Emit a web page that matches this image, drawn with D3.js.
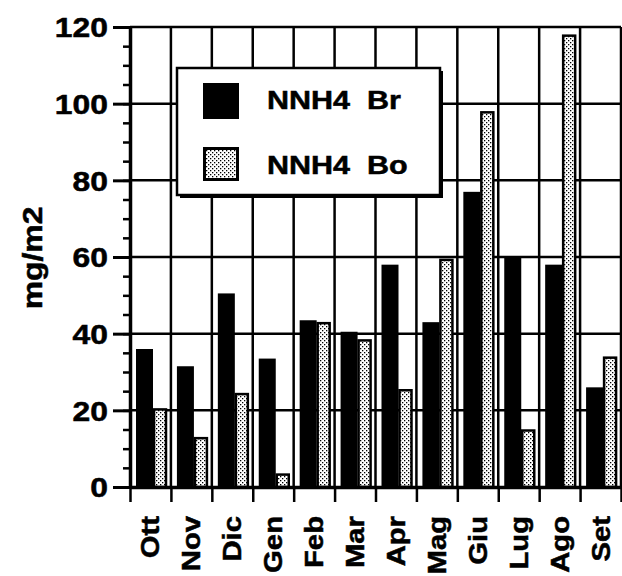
<!DOCTYPE html>
<html>
<head>
<meta charset="utf-8">
<script src="https://cdn.jsdelivr.net/npm/d3@7"></script>
<style>
  html, body { margin: 0; padding: 0; background: #fff; }
  svg { display: block; }
  text { font-family: "Liberation Sans", Arial, Helvetica, sans-serif; font-weight: bold; fill: #000; stroke: #000; stroke-width: 0.5px; }
</style>
</head>
<body>
<svg id="chart" width="622" height="576"></svg>
<script>
const months = ["Ott","Nov","Dic","Gen","Feb","Mar","Apr","Mag","Giu","Lug","Ago","Set"];
const seriesNames = ["NNH4  Br", "NNH4  Bo"];
const valuesBr = [36, 31.5, 50.5, 33.5, 43.5, 40.5, 58, 43, 77, 60, 58, 26];
const valuesBo = [20.5, 13, 24.5, 3.5, 43, 38.5, 25.5, 59.5, 98, 15, 118, 34];
const yTicks = [0, 20, 40, 60, 80, 100, 120];
const yMinorTicks = d3.range(0, 121, 5);
const yLabel = "mg/m2";

(function() {
const svg = d3.select("#chart");
const pLeft = 130, pRight = 621, pTop = 27, pBottom = 487;

const defs = svg.append("defs");
const pat = defs.append("pattern").attr("id", "stipple")
  .attr("patternUnits", "userSpaceOnUse").attr("width", 4).attr("height", 4);
pat.append("rect").attr("width", 4).attr("height", 4).attr("fill", "#fff");
pat.append("rect").attr("x", 0).attr("y", 0).attr("width", 1.3).attr("height", 1.3).attr("fill", "#000");
pat.append("rect").attr("x", 2).attr("y", 2).attr("width", 1.3).attr("height", 1.3).attr("fill", "#000");

const x = d3.scaleBand().domain(months).range([pLeft, pRight]).padding(0);
const xb = d3.scaleLinear().domain([0, months.length]).range([pLeft, pRight]);
const x1 = d3.scaleBand().domain(["Br", "Bo"]).range([6, 37]).padding(0);
const y = d3.scaleLinear().domain([0, 120]).range([pBottom, pTop]);

function stretch(sel, k) {
  sel.each(function() {
    const L = this.getComputedTextLength();
    this.setAttribute("textLength", L * k);
    this.setAttribute("lengthAdjust", "spacingAndGlyphs");
  });
}

// gridlines
const grid = svg.append("g");
grid.selectAll("line.h").data(yTicks.filter(d => d > 0)).join("line")
  .attr("x1", pLeft).attr("x2", pRight)
  .attr("y1", d => y(d)).attr("y2", d => y(d))
  .attr("stroke", "#000").attr("stroke-width", 2.5);
grid.selectAll("line.v").data(d3.range(1, months.length + 1)).join("line")
  .attr("x1", d => xb(d)).attr("x2", d => xb(d))
  .attr("y1", pTop).attr("y2", pBottom)
  .attr("stroke", "#000").attr("stroke-width", 2.5);

// bars
const data = months.map((m, i) => ({ m, br: valuesBr[i], bo: valuesBo[i] }));
const bars = svg.append("g");
bars.selectAll("rect.br").data(data).join("rect")
  .attr("x", d => x(d.m) + x1("Br"))
  .attr("width", x1("Bo") - x1("Br") + 1.5)
  .attr("y", d => y(d.br))
  .attr("height", d => y(0) - y(d.br))
  .attr("fill", "#000");
bars.selectAll("rect.bo").data(data).join("rect")
  .attr("x", d => x(d.m) + x1("Bo") + 1.5 + 1)
  .attr("width", x1.bandwidth() - 1.5 - 2)
  .attr("y", d => y(d.bo) + 1)
  .attr("height", d => Math.max(0, y(0) - y(d.bo) - 1))
  .attr("fill", "url(#stipple)")
  .attr("stroke", "#000").attr("stroke-width", 2.5);

// y axis minor ticks
svg.append("g").attr("transform", `translate(${pLeft},0)`)
  .call(d3.axisLeft(y).tickValues(yMinorTicks).tickSize(7).tickFormat(""))
  .call(g => g.select(".domain").remove())
  .call(g => g.selectAll("line").attr("stroke", "#000").attr("stroke-width", 2.5));

// y axis major
const yAxis = svg.append("g").attr("transform", `translate(${pLeft},0)`)
  .call(d3.axisLeft(y).tickValues(yTicks).tickSize(17).tickPadding(5).tickSizeOuter(0))
  .call(g => g.select(".domain").attr("stroke", "#000").attr("stroke-width", 3.5))
  .call(g => g.selectAll(".tick line").attr("stroke", "#000").attr("stroke-width", 3));
yAxis.selectAll(".tick text")
  .attr("font-size", 27).attr("font-weight", "bold")
  .attr("font-family", "'Liberation Sans', Arial, sans-serif")
  .attr("fill", "#000").attr("dy", "0.36em");
stretch(yAxis.selectAll(".tick text"), 1.18);

// x axis
svg.append("g").attr("transform", `translate(0,${pBottom})`)
  .call(d3.axisBottom(xb).tickValues(d3.range(0, months.length + 1)).tickSize(15).tickFormat("").tickSizeOuter(0))
  .call(g => g.select(".domain").attr("stroke", "#000").attr("stroke-width", 3.5))
  .call(g => g.selectAll(".tick line").attr("stroke", "#000").attr("stroke-width", 2.5));

// month labels
const xl = svg.append("g").selectAll("text").data(months).join("text")
  .attr("transform", d => `translate(${x(d) + x.bandwidth() / 2 + 9},516) rotate(-90)`)
  .attr("text-anchor", "end")
  .attr("font-size", 25)
  .text(d => d);
stretch(xl, 1.17);

// y label
const yl = svg.append("text")
  .attr("transform", "translate(42,258) rotate(-90)")
  .attr("text-anchor", "middle")
  .attr("font-size", 27)
  .text(yLabel);
stretch(yl, 1.18);

// legend
const lg = svg.append("g");
lg.append("rect").attr("x", 180).attr("y", 71).attr("width", 263).attr("height", 127).attr("fill", "#000");
lg.append("rect").attr("x", 177).attr("y", 68).attr("width", 263).attr("height", 127)
  .attr("fill", "#fff").attr("stroke", "#000").attr("stroke-width", 2.5);
lg.append("rect").attr("x", 203).attr("y", 83).attr("width", 36).attr("height", 36).attr("fill", "#000");
lg.append("rect").attr("x", 204.5).attr("y", 148.5).attr("width", 33).attr("height", 31)
  .attr("fill", "url(#stipple)").attr("stroke", "#000").attr("stroke-width", 3);
const lt = lg.selectAll("text.leg").data(seriesNames).join("text")
  .attr("x", 267).attr("y", (d, i) => 109 + i * 65)
  .attr("font-size", 25)
  .style("white-space", "pre")
  .text(d => d);
stretch(lt, 1.22);
})();
</script>
</body>
</html>
